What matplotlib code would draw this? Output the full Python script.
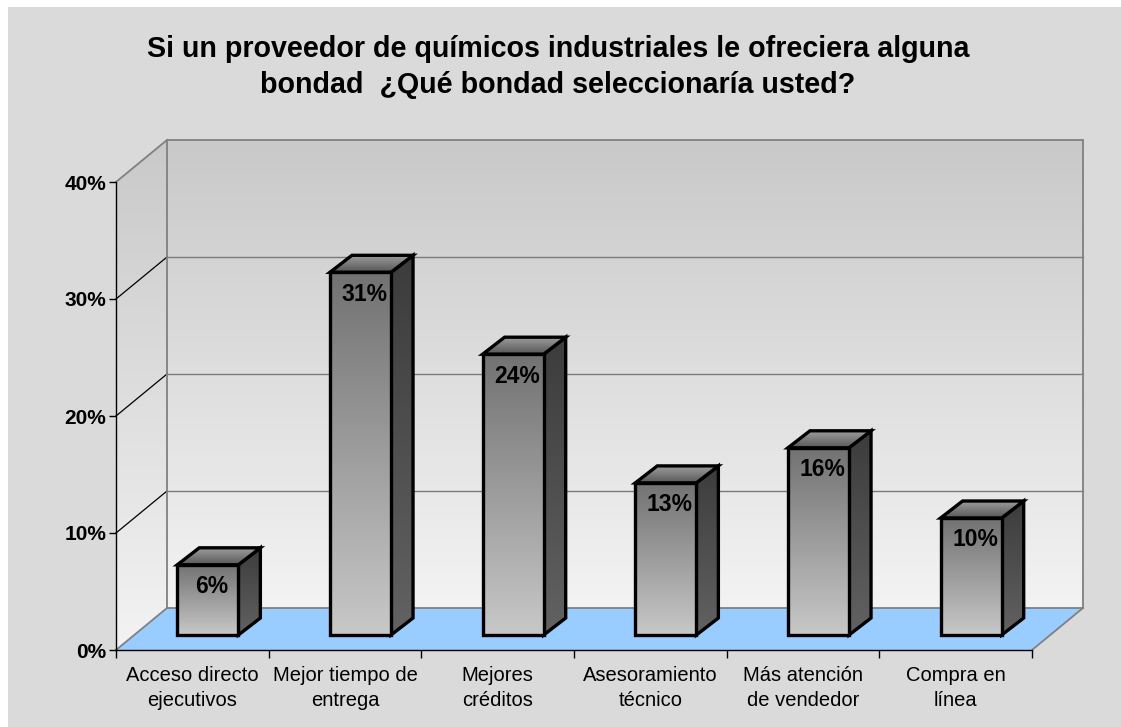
import numpy as np
import matplotlib
matplotlib.use("Agg")
import matplotlib.pyplot as plt
from matplotlib.patches import Polygon, Rectangle
from matplotlib.colors import LinearSegmentedColormap
from matplotlib.lines import Line2D

# ---------------- data ----------------
categories = ["Acceso directo\nejecutivos", "Mejor tiempo de\nentrega", "Mejores\ncréditos",
              "Asesoramiento\ntécnico", "Más atención\nde vendedor", "Compra en\nlínea"]
values = [6, 31, 24, 13, 16, 10]
value_labels = ["6%", "31%", "24%", "13%", "16%", "10%"]
yticks = [0, 10, 20, 30, 40]
ytick_labels = ["0%", "10%", "20%", "30%", "40%"]
title_lines = ["Si un proveedor de químicos industriales le ofreciera alguna",
               "bondad  ¿Qué bondad seleccionaría usted?"]

# ---------------- style ----------------
W, H, DPI = 1121, 727, 100
FONT = "Liberation Sans"
WALL_D = (51, 42)        # full depth offset of the wall (px)
BAR_F = (15.5, 15)       # bar front offset (px)
BAR_B = (37.5, 32)       # bar back offset (px)
BAR_W = 0.40

fig = plt.figure(figsize=(W / DPI, H / DPI), dpi=DPI)
fig.patch.set_facecolor("white")
fig.patches.append(Rectangle((8 / W, 0), 1 - 8 / W, 1 - 7 / H, transform=fig.transFigure,
                             facecolor="#DADADA", edgecolor="none", zorder=-10))

# canvas axes in pixel units for the pseudo-3D drawing
cv = fig.add_axes([0, 0, 1, 1], zorder=0)
cv.set_xlim(0, W)
cv.set_ylim(0, H)
cv.axis("off")
cv.patch.set_visible(False)

# front-plane data axes
ax = fig.add_axes([116 / W, 77 / H, 916 / W, 468 / H], zorder=1)
n = len(values)
ax.set_xlim(0, n)
ax.set_ylim(0, 40)
ax.patch.set_visible(False)
for s in ["top", "right"]:
    ax.spines[s].set_visible(False)
for s in ["left", "bottom"]:
    ax.spines[s].set_color("black")
    ax.spines[s].set_linewidth(1.0)
ax.set_yticks(yticks)
ax.set_yticklabels(ytick_labels, fontfamily=FONT, fontweight="bold", fontsize=15)
ax.set_xticks(np.arange(n + 1))
ax.set_xticklabels([])
ax.tick_params(axis="y", length=5, width=1, pad=2)
ax.tick_params(axis="x", length=6, width=1)

to_cv = cv.transData.inverted()


def proj(x, y, off=(0, 0)):
    p = ax.transData.transform((x, y))
    return to_cv.transform((p[0] + off[0], p[1] + off[1]))


def grad_poly(verts, c_a, c_b, vertical=True, z=1, edge=None, lw=0):
    verts = np.asarray(verts)
    poly = Polygon(verts, closed=True, facecolor="none", edgecolor="none", zorder=z)
    cv.add_patch(poly)
    cmap = LinearSegmentedColormap.from_list("g", [c_a, c_b])
    g = np.linspace(0, 1, 256)
    arr = g.reshape(-1, 1) if vertical else g.reshape(1, -1)
    x0, x1 = verts[:, 0].min(), verts[:, 0].max()
    y0, y1 = verts[:, 1].min(), verts[:, 1].max()
    im = cv.imshow(arr, cmap=cmap, extent=[x0, x1, y0, y1], origin="lower", aspect="auto",
                   interpolation="bilinear", zorder=z)
    im.set_clip_path(poly)
    if edge is not None:
        cv.add_patch(Polygon(verts, closed=True, facecolor="none", edgecolor=edge, lw=lw,
                             joinstyle="miter", zorder=z + 0.01))
    return im


# ---- walls ----
top = yticks[-1]
back = [proj(0, 0, WALL_D), proj(n, 0, WALL_D), proj(n, top, WALL_D), proj(0, top, WALL_D)]
grad_poly(back, "#F3F3F3", "#C9C9C9", z=1)
left = [proj(0, 0), proj(0, 0, WALL_D), proj(0, top, WALL_D), proj(0, top)]
grad_poly(left, "#F3F3F3", "#C9C9C9", z=1)
floor = [proj(0, 0), proj(n, 0), proj(n, 0, WALL_D), proj(0, 0, WALL_D)]
cv.add_patch(Polygon(floor, closed=True, facecolor="#99CCFF", edgecolor="none", zorder=1.5))

for v in yticks[1:-1]:
    a, b = proj(0, v, WALL_D), proj(n, v, WALL_D)
    cv.add_line(Line2D([a[0], b[0]], [a[1], b[1]], color="#7A7A7A", lw=1.0, zorder=1.6))
    a, b = proj(0, v), proj(0, v, WALL_D)
    cv.add_line(Line2D([a[0], b[0]], [a[1], b[1]], color="black", lw=0.9, zorder=1.6))

outline = [proj(0, 0, WALL_D), proj(n, 0, WALL_D), proj(n, top, WALL_D), proj(0, top, WALL_D)]
cv.add_patch(Polygon(outline, closed=True, facecolor="none", edgecolor="#808080", lw=1.3, zorder=1.7))
for pa, pb in [((0, top), (0, top)), ((0, 0), (0, 0)), ((n, 0), (n, 0))]:
    a, b = proj(*pa), proj(*pb, WALL_D)
    cv.add_line(Line2D([a[0], b[0]], [a[1], b[1]], color="#808080", lw=1.3, zorder=1.7))

# ---- bars ----
for i, v in enumerate(values):
    xl, xr = i + 0.5 - BAR_W / 2, i + 0.5 + BAR_W / 2
    z = 3 + i
    side = [proj(xr, 0, BAR_F), proj(xr, 0, BAR_B), proj(xr, v, BAR_B), proj(xr, v, BAR_F)]
    grad_poly(side, "#626262", "#3C3C3C", z=z, edge="black", lw=2.4)
    topf = [proj(xl, v, BAR_F), proj(xr, v, BAR_F), proj(xr, v, BAR_B), proj(xl, v, BAR_B)]
    grad_poly(topf, "#585858", "#9C9C9C", z=z + 0.1, edge="black", lw=2.4)
    front = [proj(xl, 0, BAR_F), proj(xr, 0, BAR_F), proj(xr, v, BAR_F), proj(xl, v, BAR_F)]
    grad_poly(front, "#C8C8C8", "#727272", z=z + 0.2, edge="black", lw=2.4)
    p = proj(i + 0.5, v, BAR_F)
    cv.text(p[0] + 4, p[1] - 22, value_labels[i], ha="center", va="center", fontfamily=FONT,
            fontweight="bold", fontsize=16.5, color="black", zorder=z + 0.5)

# ---- category labels ----
for i, lab in enumerate(categories):
    px = ax.transData.transform((i + 0.5, 0))[0]
    for k, line in enumerate(lab.split("\n")):
        fig.text(px / W, 1 - (681 + 25 * k) / H, line, ha="center", va="baseline",
                 fontfamily=FONT, fontsize=14.5, color="black")

# ---- title ----
for k, line in enumerate(title_lines):
    fig.text(558 / W, 1 - (57 + 36 * k) / H, line, ha="center", va="baseline",
             fontfamily=FONT, fontweight="bold", fontsize=20.6, color="black")

fig.savefig("out.png", dpi=DPI, facecolor=fig.get_facecolor())
